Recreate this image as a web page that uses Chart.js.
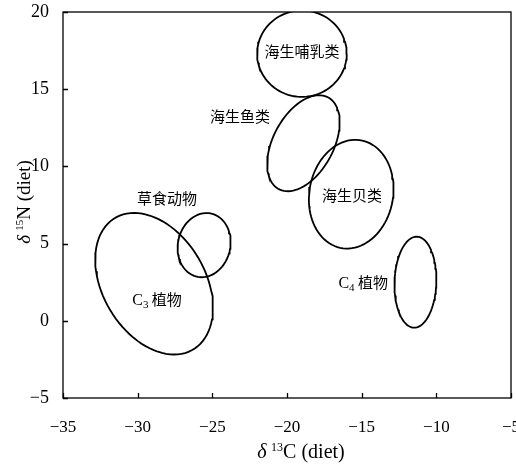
<!DOCTYPE html>
<html>
<head>
<meta charset="utf-8">
<script src="https://cdn.jsdelivr.net/npm/chart.js@4.4.0/dist/chart.umd.min.js"></script>
<style>
  html, body { margin: 0; padding: 0; background: #fff; }
  #wrap { width: 516px; height: 465px; }
</style>
</head>
<body>
<div id="wrap"><canvas id="chart"></canvas></div>
<script>
// ellipses, in data units (d13C, d15N)
const groups  = ['海生哺乳类', '海生鱼类', '海生贝类', '草食动物', 'C3 植物', 'C4 植物'];
const centerX = [-19.0, -18.9, -15.7, -25.55, -28.9, -11.4];
const centerY = [17.3, 11.5, 8.2, 4.9, 2.4, 2.5];
const radiusA = [3.0, 3.4, 3.55, 2.1, 5.0, 2.95];
const radiusB = [2.8, 2.0, 2.8, 1.75, 3.4, 1.4];
const tiltDeg = [0, 60, 78, 75, -57, 88];

// where each group name sits
const labelX = [-19.0, -23.15, -15.65, -28.03, -28.7, -14.9];
const labelY = [17.4, 13.2, 8.1, 7.9, 1.35, 2.45];

const xTickLabels = ['\u221235', '\u221230', '\u221225', '\u221220', '\u221215', '\u221210', '\u22125'];
const yTickLabels = ['\u22125', '0', '5', '10', '15', '20'];

const SERIF = '"Liberation Serif", "DejaVu Serif", serif';
const CJK = '"Noto Sans CJK SC", sans-serif';

function outline(i) {
  const pts = [];
  const th = tiltDeg[i] * Math.PI / 180;
  for (let k = 0; k <= 90; k++) {
    const t = k / 90 * 2 * Math.PI;
    const u = radiusA[i] * Math.cos(t), v = radiusB[i] * Math.sin(t);
    pts.push({
      x: centerX[i] + u * Math.cos(th) - v * Math.sin(th),
      y: centerY[i] + u * Math.sin(th) + v * Math.cos(th)
    });
  }
  return pts;
}

const datasets = groups.map((g, i) => ({
  label: g,
  data: outline(i),
  showLine: true,
  borderColor: '#000',
  borderWidth: 1.8,
  pointRadius: 0,
  tension: 0,
  fill: false
}));

// frame, inward ticks, axis titles and group names
const decor = {
  id: 'decor',
  afterDraw(chart) {
    const ctx = chart.ctx;
    const a = chart.chartArea;
    const xs = chart.scales.x, ys = chart.scales.y;
    ctx.save();
    ctx.strokeStyle = '#000';
    ctx.lineWidth = 1.3;
    ctx.strokeRect(a.left, a.top, a.right - a.left, a.bottom - a.top);
    ctx.beginPath();
    xs.ticks.forEach(t => {
      const px = Math.round(xs.getPixelForValue(t.value)) + 0.5;
      ctx.moveTo(px, a.bottom);
      ctx.lineTo(px, a.bottom - 5);
    });
    ys.ticks.forEach(t => {
      const py = Math.round(ys.getPixelForValue(t.value)) + 0.5;
      ctx.moveTo(a.left, py);
      ctx.lineTo(a.left + 5, py);
    });
    ctx.stroke();

    ctx.fillStyle = '#000';
    ctx.textBaseline = 'alphabetic';

    function axisTitle(sup, letter, cx, cy, rot, size) {
      ctx.save();
      ctx.translate(cx, cy);
      ctx.rotate(rot);
      const parts = [
        { t: '\u03b4', f: 'italic ' + size + 'px ' + SERIF, dy: 0 },
        { t: ' ', f: (size - 2) + 'px ' + SERIF, dy: 0 },
        { t: sup, f: Math.round(size * 0.6) + 'px ' + SERIF, dy: -7 },
        { t: letter + ' (diet)', f: size + 'px ' + SERIF, dy: 0 }
      ];
      let w = 0;
      parts.forEach(p => { ctx.font = p.f; p.w = ctx.measureText(p.t).width; w += p.w; });
      let x = -w / 2;
      parts.forEach(p => { ctx.font = p.f; ctx.fillText(p.t, x, 5 + p.dy); x += p.w; });
      ctx.restore();
    }
    axisTitle('13', 'C', 301, 453, 0, 20);
    axisTitle('15', 'N', 25, 202, -Math.PI / 2, 19);

    groups.forEach((g, i) => {
      const px = xs.getPixelForValue(labelX[i]);
      const py = ys.getPixelForValue(labelY[i]);
      const m = g.match(/^C(\d) (.*)$/);
      let parts;
      if (m) {
        parts = [
          { t: 'C', f: '16px ' + SERIF, dy: 0 },
          { t: m[1], f: '11px ' + SERIF, dy: 3 },
          { t: ' ' + m[2], f: '15px ' + CJK, dy: 0 }
        ];
      } else {
        parts = [{ t: g, f: '15px ' + CJK, dy: 0 }];
      }
      let w = 0;
      parts.forEach(p => { ctx.font = p.f; p.w = ctx.measureText(p.t).width; w += p.w; });
      let x = px - w / 2;
      parts.forEach(p => { ctx.font = p.f; ctx.fillText(p.t, x, py + 5 + p.dy); x += p.w; });
    });
    ctx.restore();
  }
};

new Chart(document.getElementById('chart'), {
  type: 'scatter',
  data: { datasets: datasets },
  options: {
    responsive: true,
    maintainAspectRatio: false,
    animation: false,
    layout: { padding: { top: 12, right: 5, left: 0, bottom: 0 } },
    plugins: {
      legend: { display: false },
      tooltip: { enabled: false }
    },
    scales: {
      x: {
        type: 'linear',
        min: -35, max: -5,
        grid: { display: false },
        border: { display: false },
        ticks: {
          stepSize: 5,
          padding: 11,
          color: '#000',
          maxRotation: 0,
          font: { family: SERIF, size: 17 },
          callback: (v, i) => xTickLabels[i]
        },
        afterFit(s) { s.height = 67; s.paddingLeft = 0; s.paddingRight = 0; }
      },
      y: {
        type: 'linear',
        min: -5, max: 20,
        grid: { display: false },
        border: { display: false },
        ticks: {
          stepSize: 5,
          padding: 6,
          color: '#000',
          font: { family: SERIF, size: 18 },
          callback: (v, i) => yTickLabels[i]
        },
        afterFit(s) { s.width = 63; s.paddingTop = 0; s.paddingBottom = 0; }
      }
    }
  },
  plugins: [decor]
});
</script>
</body>
</html>
